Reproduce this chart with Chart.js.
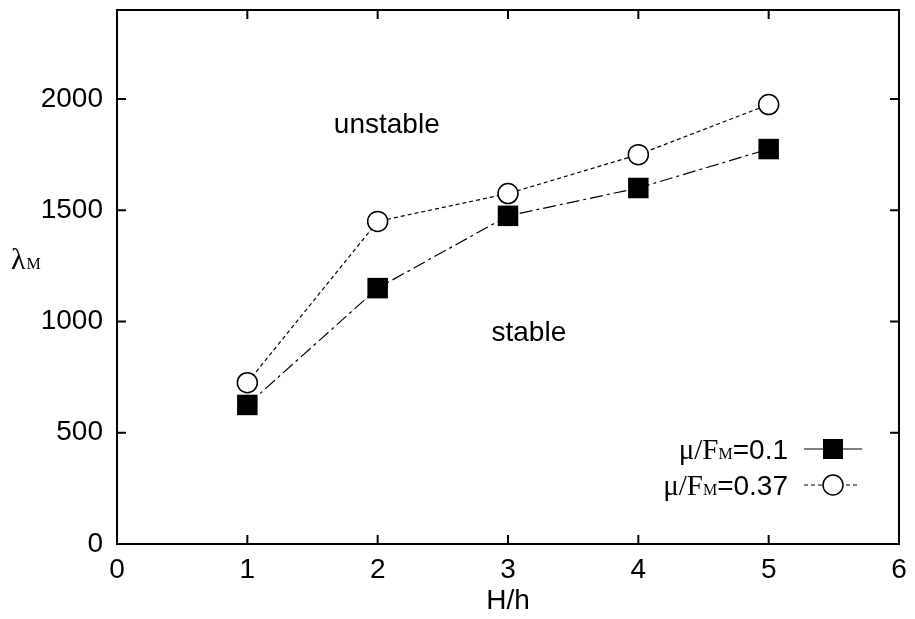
<!DOCTYPE html>
<html>
<head>
<meta charset="utf-8">
<script src="https://cdn.jsdelivr.net/npm/chart.js@4.4.1/dist/chart.umd.min.js"></script>
<style>
  html, body { margin: 0; padding: 0; background: #fff; }
</style>
</head>
<body>
<canvas id="chart" width="915" height="619"></canvas>
<script>
// H/h ratios and critical wavelength lambda_M for two friction levels
const ratios = [1, 2, 3, 4, 5];
const lambdaLowFriction = [625, 1150, 1475, 1600, 1775];   // mu/F_M = 0.1
const lambdaHighFriction = [725, 1450, 1575, 1750, 1975];  // mu/F_M = 0.37
const frictionLabels = ['0.1', '0.37'];
const xTicks = [0, 1, 2, 3, 4, 5, 6];
const yTicks = [0, 500, 1000, 1500, 2000];
const regionLabels = ['unstable', 'stable'];

const SANS = '"Liberation Sans", Arial, Helvetica, sans-serif';
const SERIF = '"Liberation Serif", "Times New Roman", serif';
const FONT_SIZE = 28;

const toPoints = (ys) => ratios.map((r, i) => ({x: r, y: ys[i]}));

// draws "<base>M" with a small subscript M, then the rest in sans, right aligned
function mixedLabel(ctx, base, suffix, xRight, yBase) {
    ctx.font = `29px ${SERIF}`;
    const w1 = ctx.measureText(base).width;
    ctx.font = `16px ${SERIF}`;
    const w2 = ctx.measureText('M').width;
    ctx.font = `${FONT_SIZE}px ${SANS}`;
    const w3 = ctx.measureText(suffix).width;
    let x = xRight - (w1 + w2 + w3);
    ctx.textAlign = 'left';
    ctx.textBaseline = 'alphabetic';
    ctx.font = `29px ${SERIF}`;
    ctx.fillText(base, x, yBase);
    x += w1;
    ctx.font = `16px ${SERIF}`;
    ctx.fillText('M', x, yBase);
    x += w2;
    ctx.font = `${FONT_SIZE}px ${SANS}`;
    ctx.fillText(suffix, x, yBase);
}

const framePlugin = {
    id: 'frame',
    afterDraw(chart) {
        const {ctx, chartArea: a, scales: {x, y}} = chart;
        ctx.save();
        ctx.strokeStyle = '#000';
        ctx.fillStyle = '#000';
        ctx.lineWidth = 2;
        ctx.setLineDash([]);
        ctx.strokeRect(a.left, a.top, a.right - a.left, a.bottom - a.top);

        // inward tick marks on all four sides
        const tl = 9;
        ctx.beginPath();
        x.ticks.forEach(t => {
            const px = x.getPixelForValue(t.value);
            ctx.moveTo(px, a.bottom); ctx.lineTo(px, a.bottom - tl);
            ctx.moveTo(px, a.top); ctx.lineTo(px, a.top + tl);
        });
        y.ticks.forEach(t => {
            const py = y.getPixelForValue(t.value);
            ctx.moveTo(a.left, py); ctx.lineTo(a.left + tl, py);
            ctx.moveTo(a.right, py); ctx.lineTo(a.right - tl, py);
        });
        ctx.stroke();

        // axis titles
        ctx.textAlign = 'center';
        ctx.textBaseline = 'middle';
        ctx.font = `${FONT_SIZE}px ${SANS}`;
        ctx.fillText('H/h', (a.left + a.right) / 2, 601);

        ctx.textAlign = 'left';
        ctx.textBaseline = 'alphabetic';
        ctx.font = `30px ${SERIF}`;
        ctx.fillText('\u03bb', 11, 269);
        const lw = ctx.measureText('\u03bb').width;
        ctx.font = `16px ${SERIF}`;
        ctx.fillText('M', 11 + lw + 1, 269);

        // region annotations
        ctx.font = `${FONT_SIZE}px ${SANS}`;
        ctx.textAlign = 'center';
        ctx.textBaseline = 'middle';
        ctx.fillText(regionLabels[0], x.getPixelForValue(2.07), y.getPixelForValue(1880));
        ctx.fillText(regionLabels[1], x.getPixelForValue(3.16), y.getPixelForValue(945));

        // key, bottom right
        const rows = [449, 485];
        const textRight = 788;
        const x0 = 804, xm = 833;
        chart.data.datasets.forEach((ds, i) => {
            const yy = rows[i];
            ctx.fillStyle = '#000';
            mixedLabel(ctx, '\u03bc/F', '=' + frictionLabels[i], textRight, yy + 10);
            ctx.lineWidth = 1.2;
            ctx.strokeStyle = '#000';
            ctx.beginPath();
            if (i === 0) {
                ctx.setLineDash([]);
                ctx.moveTo(x0, yy); ctx.lineTo(862, yy);
                ctx.stroke();
                ctx.fillRect(xm - 10, yy - 10, 20, 20);
            } else {
                ctx.setLineDash([4, 3]);
                ctx.moveTo(x0, yy); ctx.lineTo(859, yy);
                ctx.stroke();
                ctx.setLineDash([]);
                ctx.beginPath();
                ctx.arc(xm, yy, 10, 0, Math.PI * 2);
                ctx.fillStyle = '#fff';
                ctx.fill();
                ctx.lineWidth = 1.5;
                ctx.stroke();
            }
        });
        ctx.restore();
    }
};

new Chart(document.getElementById('chart'), {
    type: 'line',
    data: {
        datasets: [{
            label: 'mu/F_M=' + frictionLabels[0],
            data: toPoints(lambdaLowFriction),
            borderColor: '#000',
            borderWidth: 1.2,
            borderDash: [13, 4, 3, 4],
            pointStyle: 'rect',
            pointRadius: 14.5,
            pointBackgroundColor: '#000',
            pointBorderWidth: 0,
            tension: 0
        }, {
            label: 'mu/F_M=' + frictionLabels[1],
            data: toPoints(lambdaHighFriction),
            borderColor: '#000',
            borderWidth: 1.2,
            borderDash: [4, 3],
            pointStyle: 'circle',
            pointRadius: 10,
            pointBackgroundColor: '#fff',
            pointBorderColor: '#000',
            pointBorderWidth: 1.5,
            tension: 0
        }]
    },
    options: {
        responsive: false,
        animation: false,
        layout: {autoPadding: false, padding: {left: 0, top: 10, right: 16, bottom: 0}},
        plugins: {
            legend: {display: false},
            tooltip: {enabled: false}
        },
        scales: {
            x: {
                type: 'linear',
                min: 0,
                max: 6,
                afterBuildTicks: (s) => { s.ticks = xTicks.map(v => ({value: v})); },
                afterFit: (s) => { s.height = 75; s.paddingLeft = 0; s.paddingRight = 0; },
                grid: {display: false, drawTicks: false},
                border: {display: false},
                ticks: {
                    color: '#000',
                    padding: 9,
                    font: {family: SANS, size: FONT_SIZE},
                    maxRotation: 0,
                    callback: (v) => String(v)
                }
            },
            y: {
                type: 'linear',
                min: 0,
                max: 2400,
                afterBuildTicks: (s) => { s.ticks = yTicks.map(v => ({value: v})); },
                afterFit: (s) => { s.width = 117; s.paddingTop = 0; s.paddingBottom = 0; },
                grid: {display: false, drawTicks: false},
                border: {display: false},
                ticks: {
                    color: '#000',
                    padding: 14,
                    font: {family: SANS, size: FONT_SIZE},
                    callback: (v) => String(v)
                }
            }
        }
    },
    plugins: [framePlugin]
});
</script>
</body>
</html>
